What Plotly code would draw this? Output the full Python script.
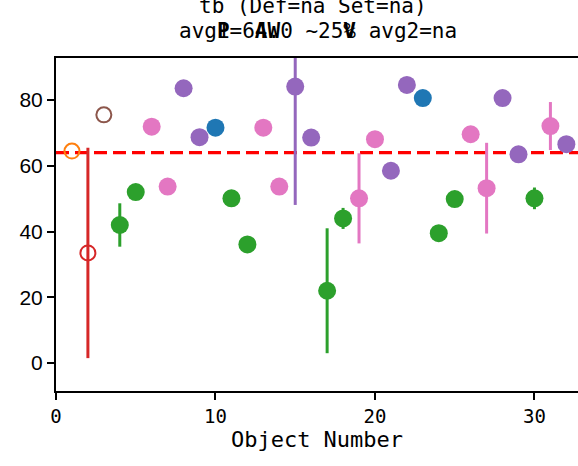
import plotly.graph_objects as go

# ---- data ----
obj_num = list(range(1, 33))
values = [64.5, 33.5, 75.5, 42.0, 52.0, 71.9, 53.7, 83.6, 68.7, 71.6, 50.1, 36.1,
          71.6, 53.7, 84.1, 68.6, 22.0, 44.0, 50.1, 68.1, 58.5, 84.6, 80.6, 39.5,
          49.9, 69.6, 53.2, 80.6, 63.5, 50.1, 72.1, 66.6]
errors = [0, 32.0, 0, 6.6, 0, 0, 0, 0, 0, 0, 0, 0,
          0, 0, 36.0, 0, 19.0, 3.2, 13.7, 0, 0, 0, 0, 0,
          0, 0, 13.8, 0, 0, 3.3, 7.3, 0]
groups = ["orange", "red", "brown", "green", "green", "pink", "pink", "purple",
          "purple", "blue", "green", "green", "pink", "pink", "purple", "purple",
          "green", "green", "pink", "pink", "purple", "purple", "blue", "green",
          "green", "pink", "pink", "purple", "purple", "green", "pink", "purple"]
avg1 = 64.0
x_ticks = [0, 10, 20, 30]
y_ticks = [0, 20, 40, 60, 80]
title1 = "tb (Def=na Set=na)"
title2 = "avg1=64.0 ~25% avg2=na"
xlabel = "Object Number"

palette = {"blue": "#1f77b4", "orange": "#ff7f0e", "green": "#2ca02c", "red": "#d62728",
           "purple": "#9467bd", "brown": "#8c564b", "pink": "#e377c2"}
open_groups = {"orange", "red", "brown"}

fig = go.Figure()
for g in ["orange", "red", "brown", "green", "pink", "purple", "blue"]:
    idx = [i for i, gg in enumerate(groups) if gg == g]
    xs = [obj_num[i] for i in idx]
    ys = [values[i] for i in idx]
    es = [errors[i] for i in idx]
    col = palette[g]
    if g in open_groups:
        marker = dict(symbol="circle-open", size=15, color=col, line=dict(width=2, color=col))
    else:
        marker = dict(symbol="circle", size=18, color=col, line=dict(width=0))
    fig.add_trace(go.Scatter(
        x=xs, y=ys, mode="markers", marker=marker,
        error_y=dict(type="data", array=es, visible=True, color=col, thickness=3, width=0),
        showlegend=False, cliponaxis=True))

fig.add_shape(type="line", xref="paper", yref="y", x0=0, x1=1, y0=avg1, y1=avg1,
              line=dict(color="#ff0000", width=3.3, dash="13px,6px"), layer="below")

mono = "DejaVu Sans Mono"
fig.update_layout(
    width=578, height=466,
    margin=dict(l=56, r=0, t=58, b=75, autoexpand=False),
    plot_bgcolor="white", paper_bgcolor="white",
    xaxis=dict(range=[0, 32.73], tickvals=x_ticks, ticks="outside", ticklen=7, tickwidth=1.5,
               tickcolor="black", showline=True, linewidth=2, linecolor="black", mirror=True,
               showgrid=False, zeroline=False, automargin=False,
               tickfont=dict(family=mono, size=19, color="black"),
               title=dict(text=xlabel, font=dict(family=mono, size=22, color="black"), standoff=6)),
    yaxis=dict(range=[-8.5, 92.8], tickvals=y_ticks, ticks="outside", ticklen=7, tickwidth=1.5,
               tickcolor="black", showline=True, linewidth=2, linecolor="black", mirror=False,
               showgrid=False, zeroline=False, automargin=False,
               tickfont=dict(family="Liberation Sans", size=21, color="black")),
)

fig.add_annotation(text=title1, xref="paper", yref="paper", x=(313 - 56) / 522, y=1 + (58 - 6) / 333,
                   xanchor="center", yanchor="middle", showarrow=False,
                   font=dict(family=mono, size=21, color="black"))
fig.add_annotation(text=title2, xref="paper", yref="paper", x=(318 - 56) / 522, y=1 + (58 - 31) / 333,
                   xanchor="center", yanchor="middle", showarrow=False,
                   font=dict(family=mono, size=21, color="black"))
fig.add_annotation(text="   P  AW     V        ", xref="paper", yref="paper", x=(318 - 56) / 522,
                   y=1 + (58 - 31) / 333, xanchor="center", yanchor="middle", showarrow=False,
                   font=dict(family=mono, size=21, color="black", weight="bold"))

fig.write_html("out.html", config={"displayModeBar": False},
               post_script="document.body.style.margin='0';document.body.style.padding='0';")
